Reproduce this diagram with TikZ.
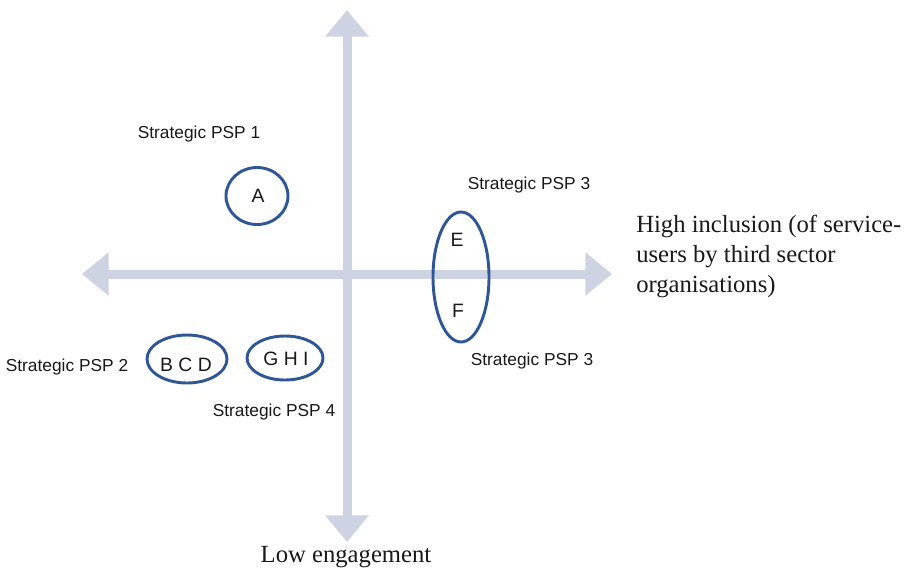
\documentclass[tikz,border=0pt]{standalone}
\usepackage{fontspec}
\setmainfont{Liberation Serif}
\newfontfamily\arialfont{Liberation Sans}
\usetikzlibrary{arrows.meta}
\definecolor{axisgrey}{RGB}{206,211,228}
\definecolor{ringblue}{RGB}{47,86,150}
\begin{document}
\begin{tikzpicture}[x=0.75pt,y=-0.75pt,
  axisline/.style={draw=axisgrey,line width=6.75pt,
    -{Triangle[width=31.5pt,length=20pt]}},
  ringline/.style={draw=ringblue,line width=2.2pt},
  lbl/.style={font=\arialfont\fontsize{13}{15}\selectfont,text=black!90,inner sep=0pt},
  letter/.style={font=\arialfont\fontsize{14.5}{16}\selectfont,text=black!90,inner sep=0pt},
  axlbl/.style={font=\fontsize{18.5}{22.5}\selectfont,text=black!90,inner sep=0pt}]
\useasboundingbox (0,0) rectangle (907,569);
\coordinate (O) at (347,274);
\coordinate (top) at (347,10);
\coordinate (bot) at (347,542);
\coordinate (lft) at (82,274);
\coordinate (rgt) at (612,274);
\draw[axisline] (O) -- (top);
\draw[axisline] (O) -- (bot);
\draw[axisline] (O) -- (lft);
\draw[axisline] (O) -- (rgt);
% ellipses
\draw[ringline] (257,196) ellipse [x radius=31, y radius=28.5];
\draw[ringline] (461,277) ellipse [x radius=28, y radius=65];
\draw[ringline] (187,359) ellipse [x radius=40, y radius=24];
\draw[ringline] (285,358) ellipse [x radius=38, y radius=22];
\node[letter] (a) at (258,196) {A};
\node[letter] (e) at (457,240) {E};
\node[letter] (f) at (458,311) {F};
\node[letter] (bcd) at (186,365) {B C D};
\node[letter] (ghi) at (286,359) {G H I};
\node[lbl] (p1) at (199,134) {Strategic PSP 1};
\node[lbl] (p3a) at (529,185) {Strategic PSP 3};
\node[lbl] (p3b) at (532,361) {Strategic PSP 3};
\node[lbl] (p2) at (67,367) {Strategic PSP 2};
\node[lbl] (p4) at (274,412) {Strategic PSP 4};
\node[axlbl,anchor=north west,align=left] (hi) at (636,215) {High inclusion (of service-\\users by third sector\\organisations)};
\node[axlbl] (low) at (346,557) {Low engagement};
\end{tikzpicture}
\end{document}
